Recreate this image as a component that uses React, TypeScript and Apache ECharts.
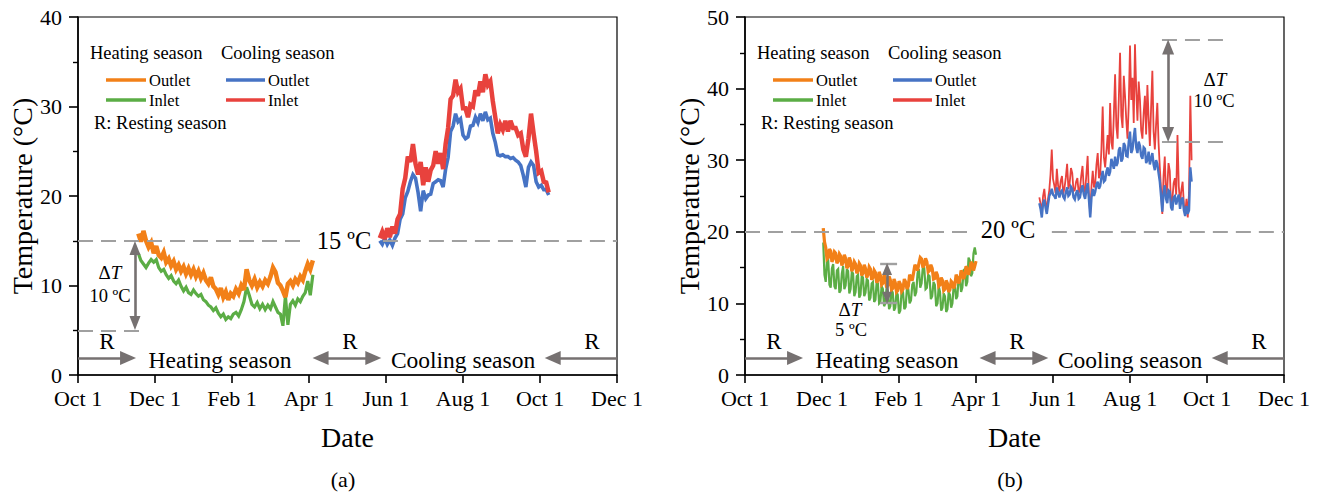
import React, { useEffect, useRef } from 'react';
import * as echarts from 'echarts';

// ---------- data ----------
const tickLabels = ['Oct 1', 'Dec 1', 'Feb 1', 'Apr 1', 'Jun 1', 'Aug 1', 'Oct 1', 'Dec 1'];

// (a) heating season, every 2 days from 2019-11-18
const aHeatStart = '2019-11-18';
const aHeatOutlet = [15.8,14.9,16.1,15.0,14.3,14.8,13.6,14.4,13.4,13.1,13.7,12.6,13.0,12.2,12.7,11.8,12.3,11.6,12.1,11.3,11.9,11.2,11.8,11.0,11.6,10.8,11.4,10.6,10.2,10.9,9.9,9.6,9.0,9.7,8.7,9.3,8.4,9.1,8.8,9.6,9.1,10.0,9.5,11.8,10.6,10.0,10.7,9.8,10.4,9.9,10.6,10.2,11.0,12.0,11.5,10.3,10.0,9.4,8.7,10.2,10.5,10.0,10.7,10.3,11.0,10.6,11.6,12.4,11.8,12.8];
const aHeatInlet = [13.6,12.8,12.4,12.0,12.5,12.9,12.6,12.9,12.0,11.6,11.8,11.2,10.8,11.1,10.5,10.2,10.6,9.9,9.4,9.8,9.2,9.0,9.5,9.1,8.8,9.0,8.4,8.2,7.8,7.6,7.2,7.5,6.9,6.5,6.8,6.2,6.5,6.3,6.8,7.0,6.6,7.3,8.2,9.8,8.9,7.9,7.6,8.1,7.4,7.9,7.3,7.8,7.4,8.2,7.6,7.0,6.8,5.5,8.8,5.6,7.9,8.3,7.8,8.5,8.2,8.8,9.2,10.5,8.9,11.2];

// (a) cooling season, every 2 days from 2020-05-27
const aCoolStart = '2020-05-27';
const aCoolInlet = [15.3,16.0,15.2,16.4,15.4,16.6,15.8,17.4,18.0,20.8,22.0,24.4,23.8,25.8,23.6,22.4,23.8,21.2,23.2,21.6,22.9,23.4,25.0,23.6,24.8,23.0,25.8,27.6,30.8,31.2,33.0,31.6,32.0,29.8,29.8,28.8,30.2,30.0,31.8,31.2,32.8,31.6,33.6,32.4,32.8,30.6,28.8,27.0,28.0,27.4,28.4,27.2,28.4,27.6,27.6,26.8,27.0,25.2,24.4,26.4,29.2,27.0,25.0,22.6,22.8,21.6,21.5,20.4];
const aCoolOutlet = [15.0,14.6,15.3,14.6,15.1,14.5,15.3,15.8,17.4,18.0,19.8,20.5,21.6,22.4,22.0,20.4,18.3,20.6,19.7,20.1,20.2,21.4,21.6,21.8,21.7,21.0,23.0,24.3,27.2,27.8,29.2,28.3,28.6,26.8,26.4,26.6,27.8,27.9,28.8,28.2,29.2,28.4,29.4,28.5,28.7,27.0,26.0,24.6,24.5,24.6,24.4,24.4,24.2,24.3,24.0,23.8,23.4,22.3,21.0,23.2,23.8,23.4,21.6,21.0,21.2,20.7,20.7,20.1];

// (b) heating season, daily from 2019-12-02
const bHeatStart = '2019-12-02';
const bHeatOutlet = [
  20.5,18.6,17.8,16.2,16.4,17.6,17.3,15.8,16.2,17.2,
  17.0,15.6,15.9,16.9,16.6,15.3,15.8,16.8,16.3,14.9,
  15.2,16.4,15.9,14.5,14.9,15.8,15.5,14.2,14.6,15.6,
  15.3,13.9,14.2,15.4,14.9,13.6,14.0,15.1,14.8,13.3,
  13.6,14.6,14.3,12.9,13.2,14.4,13.9,12.6,12.8,14.0,
  13.6,12.2,12.5,13.8,13.3,11.9,12.1,13.4,12.9,11.6,
  11.8,13.1,12.7,11.7,12.0,13.4,13.0,12.0,12.4,14.0,
  13.6,13.2,14.3,15.4,15.0,14.6,15.6,16.4,16.2,15.0,
  15.4,16.3,15.8,14.4,14.6,15.4,14.9,13.4,13.5,14.4,
  13.9,12.4,12.6,13.6,13.2,11.8,12.0,13.2,12.8,11.6,
  11.9,13.1,12.9,12.1,12.6,14.0,13.6,12.8,13.3,14.6,
  14.2,13.4,13.9,15.2,14.8,14.0,14.6,15.8,15.5,14.6,
  15.2,15.9];
const bHeatInlet = [
  18.5,14.0,13.0,15.8,16.0,12.6,12.2,14.9,15.5,12.4,
  12.0,14.6,14.8,11.5,11.8,14.2,15.2,12.0,12.5,14.8,
  14.5,11.4,12.0,14.4,14.2,11.0,11.6,13.8,14.0,10.8,
  11.2,13.9,13.6,11.0,11.5,13.4,13.2,10.4,10.8,12.8,
  13.0,10.2,10.5,12.9,12.8,10.0,10.2,12.4,12.0,9.6,
  10.0,12.2,11.8,9.2,9.6,11.9,11.5,9.0,9.4,11.6,
  11.2,8.6,9.0,11.8,11.6,9.2,9.5,12.2,12.0,10.0,
  10.4,12.6,13.0,11.0,11.6,14.2,14.8,12.2,12.8,15.2,
  15.0,12.0,12.2,14.0,13.8,10.6,11.0,13.0,12.6,9.6,
  10.0,12.4,11.6,9.0,9.4,11.4,11.0,8.8,9.2,11.6,
  11.2,9.4,10.0,12.4,12.6,10.6,11.0,13.6,13.5,11.6,
  12.2,14.6,14.8,12.4,13.0,16.4,16.0,13.8,14.2,17.0,
  17.8,16.8];

// (b) cooling season, daily from 2020-05-21
const bCoolStart = '2020-05-21';
const bCoolInlet = [
  24.8,23.9,22.5,25.0,26.0,24.2,23.0,24.6,25.8,28.0,
  31.5,27.4,26.5,25.4,28.8,26.4,25.6,27.1,27.8,25.3,
  26.2,27.6,29.5,26.0,26.8,28.9,28.2,25.7,25.8,27.0,
  27.5,25.4,26.0,27.8,29.2,25.9,25.5,28.0,30.6,25.0,
  22.5,26.4,28.5,26.2,26.8,29.4,31.0,27.5,28.0,31.6,
  37.5,30.4,29.0,31.2,33.5,30.8,38.0,32.5,31.5,36.4,
  42.0,34.8,33.0,38.6,45.0,36.2,34.5,41.8,39.0,35.6,
  33.0,37.8,46.0,38.4,41.5,35.2,46.2,39.8,35.5,41.0,
  38.5,34.2,33.0,36.6,39.0,33.6,40.5,35.8,32.0,37.4,
  42.5,34.0,31.5,35.0,38.0,32.4,29.0,26.0,22.5,27.8,
  30.5,25.0,26.0,29.6,28.5,23.6,24.5,26.8,27.5,25.2,
  33.5,26.4,24.0,25.8,27.0,23.8,22.5,24.6,22.0,25.5,
  39.0,30.0];
const bCoolOutlet = [
  24.0,23.2,22.0,24.0,24.5,23.4,22.5,23.8,25.0,25.4,
  26.0,25.2,25.0,24.6,26.2,25.4,24.8,25.6,25.8,24.9,
  24.6,25.5,26.2,25.0,25.2,26.3,26.0,24.8,24.5,25.4,
  25.8,24.6,24.8,25.9,26.5,25.2,24.6,25.8,26.8,24.5,
  22.0,24.8,26.0,25.0,25.6,26.6,27.0,26.0,26.4,27.6,
  28.5,27.0,27.2,28.4,29.0,27.8,28.4,30.2,29.5,28.8,
  30.5,29.2,29.6,31.4,31.8,29.8,30.2,32.4,32.0,30.6,
  30.5,32.6,34.0,31.0,31.5,33.2,34.5,31.8,31.0,32.6,
  32.0,30.6,30.2,31.8,31.6,29.6,30.0,31.2,29.4,30.2,
  31.0,29.4,28.6,30.0,29.5,28.2,27.0,25.0,22.8,25.4,
  26.5,24.6,24.0,25.8,25.6,23.4,23.0,24.8,25.0,23.8,
  24.6,25.2,23.2,24.4,24.8,23.0,22.2,23.6,22.5,23.0,
  29.0,27.0];

// ---------- helpers ----------
const FONT = 'Liberation Serif, Times New Roman, serif';
const C_ORANGE = '#F28018';
const C_GREEN = '#5BAD45';
const C_BLUE = '#4673C4';
const C_RED = '#E8423D';
const C_DASH = '#A0A0A0';
const C_ARROW = '#767171';

function monthX(start: string, i: number, step: number) {
  const [y, m, d] = start.split('-').map(Number);
  const dt = new Date(Date.UTC(y, m - 1, d) + i * step * 86400000);
  const yy = dt.getUTCFullYear();
  const mm = dt.getUTCMonth();
  const dd = dt.getUTCDate();
  const dim = new Date(Date.UTC(yy, mm + 1, 0)).getUTCDate();
  return (yy - 2019) * 12 + mm - 9 + (dd - 1) / dim;
}
const pairs = (start: string, vals: number[], step: number) => vals.map((v, i) => [monthX(start, i, step), v]);

function lineSeries(idx: number, start: string, vals: number[], step: number, color: string, z: number, width: number) {
  return {
    type: 'line',
    xAxisIndex: idx,
    yAxisIndex: idx,
    data: pairs(start, vals, step),
    showSymbol: false,
    symbol: 'none',
    silent: true,
    z,
    lineStyle: { color, width, join: 'miter', miterLimit: 3 },
  };
}

const seg = (x1: number, y1: number, x2: number, y2: number, s1: string, s2: string, style: any, size: any = [13, 15]) => [
  { coord: [x1, y1], symbol: s1, symbolSize: size, lineStyle: style },
  { coord: [x2, y2], symbol: s2, symbolSize: size },
];

export default function App() {
  const ref = useRef<HTMLDivElement>(null);
  useEffect(() => {
    document.body.style.margin = '0';
    const chart = echarts.init(ref.current!, null, { renderer: 'svg' });
    const gridW = 539, gridH = 358;
    const grids = [
      { left: 78, top: 17, width: gridW, height: gridH, show: true, borderColor: '#000', borderWidth: 1.2, backgroundColor: 'transparent' },
      { left: 745, top: 17, width: gridW, height: gridH, show: true, borderColor: '#000', borderWidth: 1.2, backgroundColor: 'transparent' },
    ];
    const xAxis = [0, 1].map((i) => ({
      type: 'value', gridIndex: i, min: 0, max: 14, interval: 2,
      axisLine: { show: true, onZero: false, lineStyle: { color: '#000', width: 1.6 } },
      axisTick: { show: true, length: 8, lineStyle: { color: '#000', width: 1.6 } },
      splitLine: { show: false },
      axisLabel: { formatter: (v: number) => tickLabels[Math.round(v / 2)], fontFamily: FONT, fontSize: 22, color: '#000', margin: 12 },
      name: 'Date', nameLocation: 'middle', nameGap: 48,
      nameTextStyle: { fontFamily: FONT, fontSize: 28, color: '#000' },
    }));
    const yAxis = [0, 1].map((i) => ({
      type: 'value', gridIndex: i, min: 0, max: i === 0 ? 40 : 50, interval: 10,
      axisLine: { show: true, onZero: false, lineStyle: { color: '#000', width: 1.6 } },
      axisTick: { show: true, length: 9, lineStyle: { color: '#000', width: 1.6 } },
      minorTick: { show: true, splitNumber: 2, length: 5, lineStyle: { color: '#000', width: 1.4 } },
      splitLine: { show: false },
      minorSplitLine: { show: false },
      axisLabel: { fontFamily: FONT, fontSize: 22, color: '#000', margin: 16 },
      name: 'Temperature (°C)', nameLocation: 'middle', nameGap: 42,
      nameTextStyle: { fontFamily: FONT, fontSize: 28, color: '#000' },
    }));

    const dash = { type: [15, 8], color: C_DASH, width: 2 };
    const arrow = { type: 'solid', color: C_ARROW, width: 2.6 };
    const cap = { type: 'solid', color: C_DASH, width: 2.4 };

    const annA = {
      type: 'line', xAxisIndex: 0, yAxisIndex: 0, data: [], z: 1, silent: true,
      markLine: {
        silent: true, animation: false, label: { show: false },
        emphasis: { disabled: true },
        data: [
          seg(0, 15, 5.84, 15, 'none', 'none', dash),
          seg(7.92, 15, 14, 15, 'none', 'none', dash),
          seg(0, 5, 1.62, 5, 'none', 'none', dash),
          seg(1.48, 14.2, 1.48, 5.8, 'triangle', 'triangle', arrow, [11, 14]),
          seg(0, 1.9, 1.3, 1.9, 'none', 'triangle', arrow, [14, 16]),
          seg(6.3, 1.9, 7.67, 1.9, 'triangle', 'triangle', arrow, [14, 16]),
          seg(14, 1.9, 12.33, 1.9, 'none', 'triangle', arrow, [14, 16]),
        ],
      },
    };
    const annB = {
      type: 'line', xAxisIndex: 1, yAxisIndex: 1, data: [], z: 1, silent: true,
      markLine: {
        silent: true, animation: false, label: { show: false },
        emphasis: { disabled: true },
        data: [
          seg(0, 20, 5.97, 20, 'none', 'none', dash),
          seg(7.97, 20, 14, 20, 'none', 'none', dash),
          seg(10.83, 46.8, 12.47, 46.8, 'none', 'none', dash),
          seg(10.83, 32.6, 12.47, 32.6, 'none', 'none', dash),
          seg(10.99, 45.8, 10.99, 33.6, 'triangle', 'triangle', arrow, [12, 15]),
          seg(3.51, 15.5, 3.95, 15.5, 'none', 'none', cap),
          seg(3.51, 10.1, 3.95, 10.1, 'none', 'none', cap),
          seg(3.69, 14.8, 3.69, 10.8, 'triangle', 'triangle', arrow, [10, 12]),
          seg(0, 2.37, 1.3, 2.37, 'none', 'triangle', arrow, [14, 16]),
          seg(6.3, 2.37, 7.67, 2.37, 'triangle', 'triangle', arrow, [14, 16]),
          seg(14, 2.37, 12.33, 2.37, 'none', 'triangle', arrow, [14, 16]),
        ],
      },
    };

    const txt = (x: number, y: number, text: string, size: number, align = 'center', extra: any = {}) => ({
      type: 'text', x, y, silent: true, z: 100,
      style: { text, fontFamily: FONT, fontSize: size, fill: '#000', align, verticalAlign: 'middle', ...extra },
    });
    const dT = (x: number, y: number, size: number) => ({
      type: 'text', x, y, silent: true, z: 100,
      style: {
        text: '{a|Δ}{b|T}', align: 'center', verticalAlign: 'middle',
        rich: {
          a: { fontFamily: FONT, fontSize: size, fill: '#000' },
          b: { fontFamily: FONT, fontSize: size, fill: '#000', fontStyle: 'italic' },
        },
      },
    });
    const ln = (x1: number, y1: number, x2: number, y2: number, color: string) => ({
      type: 'line', silent: true, z: 100, shape: { x1, y1, x2, y2 }, style: { stroke: color, lineWidth: 3.5 },
    });

    const graphics: any[] = [];
    [0, 667].forEach((ox) => {
      graphics.push(
        txt(90 + ox, 53, 'Heating season', 18.5, 'left'),
        txt(221 + ox, 53, 'Cooling season', 18.5, 'left'),
        ln(106 + ox, 80, 146 + ox, 80, C_ORANGE),
        ln(106 + ox, 100, 146 + ox, 100, C_GREEN),
        ln(226 + ox, 80, 265 + ox, 80, C_BLUE),
        ln(226 + ox, 100, 265 + ox, 100, C_RED),
        txt(149 + ox, 80, 'Outlet', 16.5, 'left'),
        txt(149 + ox, 100, 'Inlet', 16.5, 'left'),
        txt(268 + ox, 80, 'Outlet', 16.5, 'left'),
        txt(268 + ox, 100, 'Inlet', 16.5, 'left'),
        txt(94 + ox, 123, 'R: Resting season', 18.5, 'left'),
        txt(107 + ox, 341, 'R', 23),
        txt(350 + ox, 341, 'R', 23),
        txt(592 + ox, 341, 'R', 23),
        txt(220 + ox, 360, 'Heating season', 23.5),
        txt(463 + ox, 360, 'Cooling season', 23.5),
      );
    });
    graphics.push(
      txt(344, 240, '15 ºC', 24.5),
      txt(1008, 229, '20 ºC', 24.5),
      dT(110, 272, 19),
      txt(110, 296, '10 ºC', 18.5),
      dT(1215, 79, 19),
      txt(1214, 101, '10 ºC', 18.5),
      dT(850, 309, 19),
      txt(851, 330, '5 ºC', 18.5),
      txt(343, 479, '(a)', 22),
      txt(1010, 479, '(b)', 22),
    );

    chart.setOption({
      animation: false,
      backgroundColor: '#fff',
      grid: grids,
      xAxis,
      yAxis,
      series: [
        annA,
        annB,
        lineSeries(0, aHeatStart, aHeatInlet, 2, C_GREEN, 3, 3.2),
        lineSeries(0, aHeatStart, aHeatOutlet, 2, C_ORANGE, 4, 4.5),
        lineSeries(0, aCoolStart, aCoolOutlet, 2, C_BLUE, 3, 3.6),
        lineSeries(0, aCoolStart, aCoolInlet, 2, C_RED, 4, 4.5),
        lineSeries(1, bHeatStart, bHeatInlet, 1, C_GREEN, 3, 2.2),
        lineSeries(1, bHeatStart, bHeatOutlet, 1, C_ORANGE, 4, 3.2),
        lineSeries(1, bCoolStart, bCoolOutlet, 1, C_BLUE, 4, 2.4),
        lineSeries(1, bCoolStart, bCoolInlet, 1, C_RED, 3, 1.8),
      ],
      graphic: graphics,
    });
    return () => chart.dispose();
  }, []);
  return <div ref={ref} style={{ position: 'absolute', left: 0, top: 0, width: 1322, height: 496 }} />;
}
